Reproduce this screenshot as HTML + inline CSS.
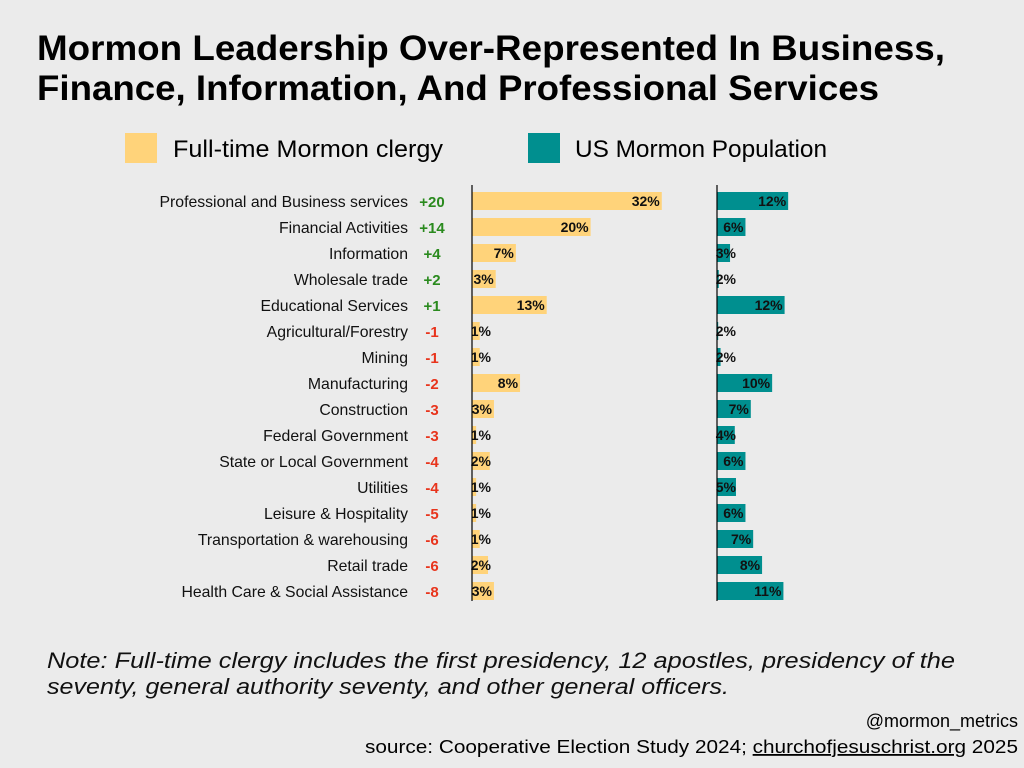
<!DOCTYPE html>
<html><head><meta charset="utf-8"><style>
body{margin:0;background:#ebebeb;}
svg{display:block;font-family:"Liberation Sans",sans-serif;}
</style></head><body>
<svg id="c" width="1024" height="768">
<rect width="1024" height="768" fill="#ebebeb"/>
<text x="37" y="60" font-size="35" font-weight="bold" textLength="908" lengthAdjust="spacingAndGlyphs">Mormon Leadership Over-Represented In Business,</text>
<text x="37" y="100" font-size="35" font-weight="bold" textLength="842" lengthAdjust="spacingAndGlyphs">Finance, Information, And Professional Services</text>
<g>
<rect x="125" y="133" width="32" height="30" fill="#ffd37a"/>
<text x="173" y="157" font-size="24" textLength="270" lengthAdjust="spacingAndGlyphs">Full-time Mormon clergy</text>
<rect x="528" y="133" width="32" height="30" fill="#008f8f"/>
<text x="575" y="157" font-size="24" textLength="252" lengthAdjust="spacingAndGlyphs">US Mormon Population</text>
</g>
<g id="rows"></g>
<line x1="472" y1="185" x2="472" y2="601" stroke="#000" stroke-width="1.2"/>
<line x1="717" y1="185" x2="717" y2="601" stroke="#000" stroke-width="1.2"/>
<text x="47" y="668" font-size="22" font-style="italic" fill="#111" textLength="908" lengthAdjust="spacingAndGlyphs">Note: Full-time clergy includes the first presidency, 12 apostles, presidency of the</text>
<text x="47" y="694" font-size="22" font-style="italic" fill="#111" textLength="682" lengthAdjust="spacingAndGlyphs">seventy, general authority seventy, and other general officers.</text>
<text x="1018" y="727" font-size="18" text-anchor="end">@mormon_metrics</text>
<text x="1018" y="753" font-size="18" text-anchor="end" textLength="653" lengthAdjust="spacingAndGlyphs">source: Cooperative Election Study 2024; <tspan text-decoration="underline">churchofjesuschrist.org</tspan> 2025</text>
</svg>
<script>
const categories=["Professional and Business services","Financial Activities","Information","Wholesale trade","Educational Services","Agricultural/Forestry","Mining","Manufacturing","Construction","Federal Government","State or Local Government","Utilities","Leisure & Hospitality","Transportation & warehousing","Retail trade","Health Care & Social Assistance"];
const clergy=[32,20,7,3,13,1,1,8,3,1,2,1,1,1,2,3];
const population=[12,6,3,2,12,2,2,10,7,4,6,5,6,7,8,11];
const clergyBar=[32,20,7.4,4,12.6,1.3,1.3,8.1,3.7,0.7,3,0.7,0.7,1.3,2.7,3.7];
const popBar=[12,4.8,2.2,0.3,11.4,0.2,0.6,9.3,5.7,3,4.8,3.2,4.8,6.1,7.6,11.2];
const diffs=[20,14,4,2,1,-1,-1,-2,-3,-3,-4,-4,-5,-6,-6,-8];
const NS="http://www.w3.org/2000/svg";
const g=document.getElementById('rows');
const sc=5.93, ax1=472, ax2=717;
function xs(v){return v*sc;}
function yc(i){return 201+i*26;}
function mk(t,a){const e=document.createElementNS(NS,t);for(const k in a)e.setAttribute(k,a[k]);return e;}
categories.forEach((c,i)=>{
  const y=yc(i);
  let t=mk('text',{x:408,y:y+6,'font-size':15.8,'text-anchor':'end',fill:'#111'});
  
  
  t.textContent=c;g.appendChild(t);
  const d=diffs[i];
  t=mk('text',{x:432,y:y+6,'font-size':15,'font-weight':'bold','text-anchor':'middle',fill:d>0?'#2a8a1e':'#e8341c'});
  
  
  t.textContent=(d>0?'+':'')+d;g.appendChild(t);
  [[clergyBar,clergy,ax1,'#ffd37a','clergy'],[popBar,population,ax2,'#008f8f','population']].forEach(([bv,lv,ax,col,nm])=>{
    const w=xs(bv[i]);
    const r=mk('rect',{x:ax,y:y-9,width:w,height:18,fill:col});
    
    
    g.appendChild(r);
    const lbl=lv[i]+'%';
    const tw=lbl.length*8.5;
    const ex=Math.max(ax+w-2,ax+2+tw);
    const tx=mk('text',{x:ex,y:y+5,'font-size':14,'font-weight':'bold','text-anchor':'end',fill:'#111'});
    
    
    tx.textContent=lbl;g.appendChild(tx);
  });
});
</script>
</body></html>
